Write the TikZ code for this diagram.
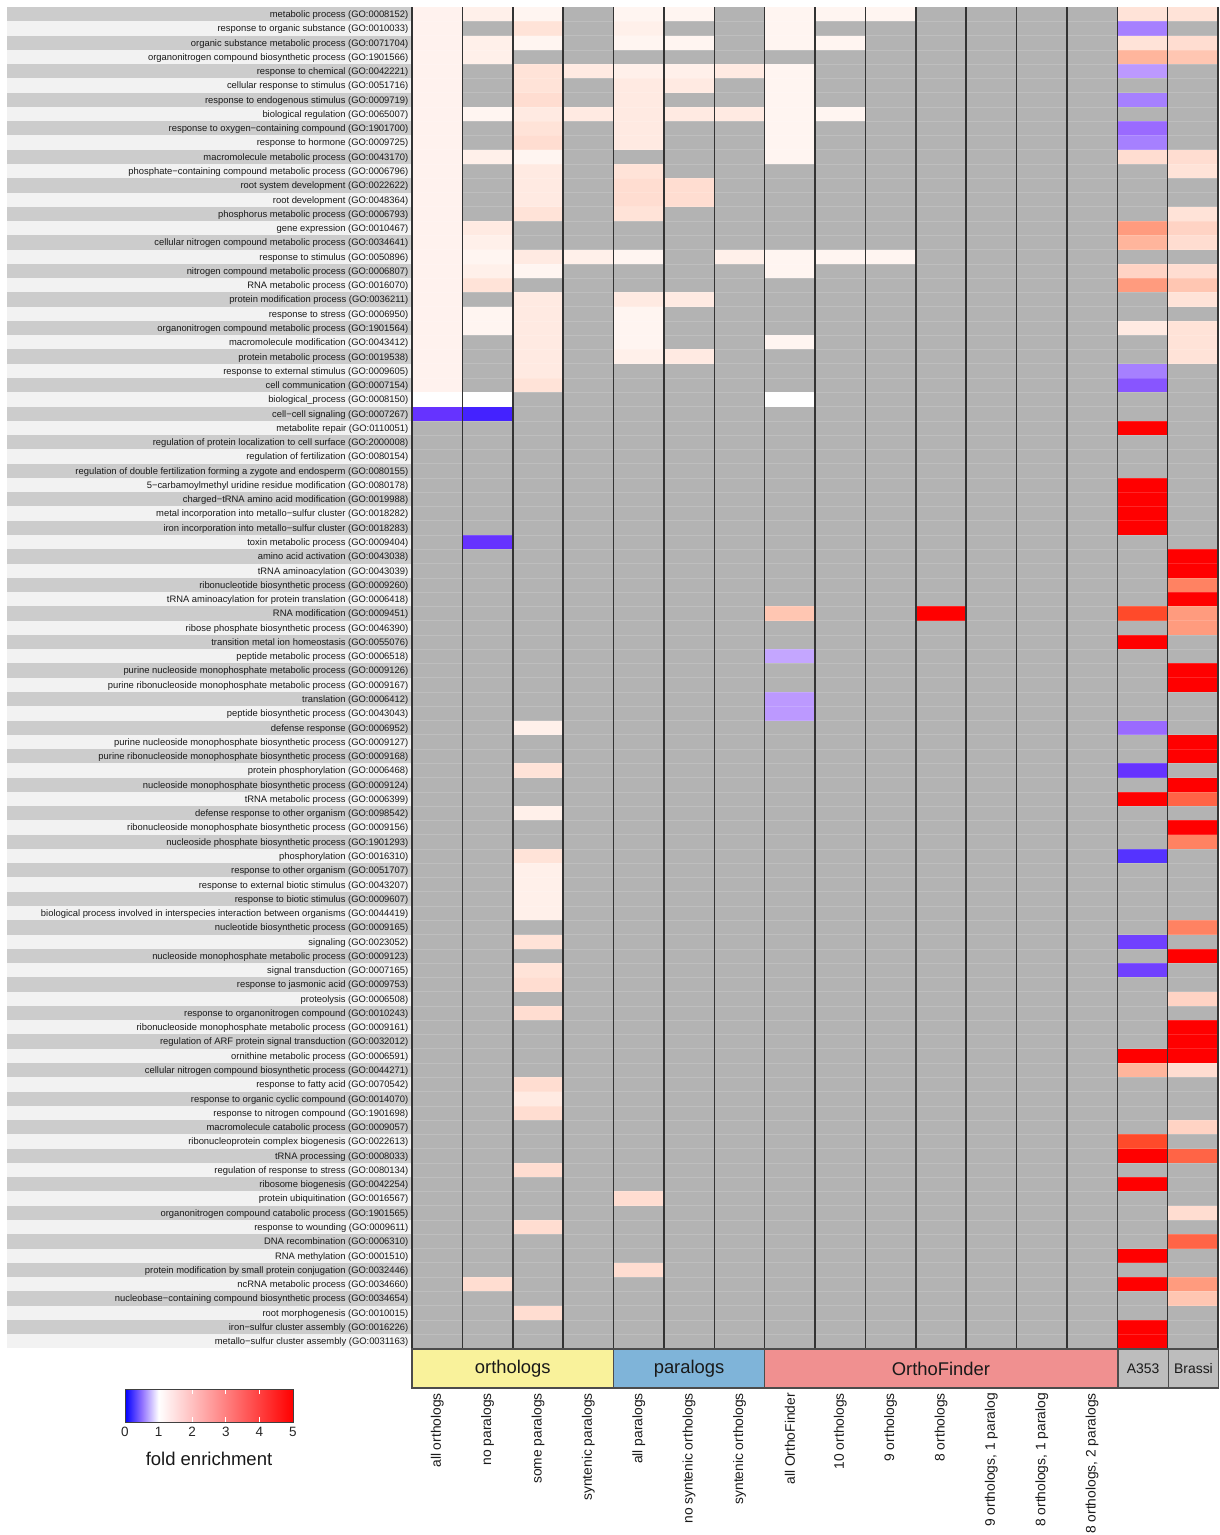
\documentclass[tikz,border=0pt]{standalone}
\usepackage{fontspec}
\setmainfont{Liberation Sans}
\definecolor{rA}{HTML}{FFF5F1}
\definecolor{rAB}{HTML}{FFF2EE}
\definecolor{rB}{HTML}{FFF0EA}
\definecolor{rC}{HTML}{FFEAE2}
\definecolor{rD}{HTML}{FFE3D8}
\definecolor{rE}{HTML}{FFDDD1}
\definecolor{rF}{HTML}{FFD3C4}
\definecolor{rG}{HTML}{FFC6B2}
\definecolor{rH}{HTML}{FFB59C}
\definecolor{rI}{HTML}{FF9B7E}
\definecolor{rJ}{HTML}{FF8262}
\definecolor{rK}{HTML}{FF6446}
\definecolor{rL}{HTML}{FF4A2A}
\definecolor{rM}{HTML}{FF0000}
\definecolor{wh}{HTML}{FFFFFF}
\definecolor{bA}{HTML}{C4A6FF}
\definecolor{bB}{HTML}{BC99FF}
\definecolor{bC}{HTML}{A680FF}
\definecolor{bD}{HTML}{9A6AFF}
\definecolor{bE}{HTML}{8855FF}
\definecolor{bF}{HTML}{7040FF}
\definecolor{bG}{HTML}{6633FF}
\definecolor{bH}{HTML}{4422FF}
\definecolor{bI}{HTML}{5533FF}
\definecolor{nagrey}{HTML}{B3B3B3}
\definecolor{stripeD}{HTML}{CCCCCC}
\definecolor{stripeL}{HTML}{F2F2F2}
\definecolor{gylw}{HTML}{F9F29B}
\definecolor{gblue}{HTML}{7FB4D9}
\definecolor{gpink}{HTML}{F09090}
\definecolor{ggrey}{HTML}{BDBDBD}
\definecolor{sepline}{HTML}{333333}
\definecolor{bmid}{HTML}{9070FF}
\pgfdeclarehorizontalshading{fechade}{100bp}{color(0bp)=(blue); color(25bp)=(blue); color(30bp)=(bmid); color(35bp)=(white); color(75bp)=(red); color(100bp)=(red)}
\newcommand\hmc[3]{\fill[#3] ({412+(#1-1)*50.375},{7+(#2-1)*14.27}) rectangle ++(50.375,14.27);}
\newcommand\hmcol[2]{\foreach \rr/\cc in {#2}{\hmc{#1}{\rr}{\cc}}}
\begin{document}
\begin{tikzpicture}[x=1pt,y=-1pt,
  rowlab/.style={anchor=base east,inner sep=0pt,font=\fontsize{9.4}{10}\selectfont,text=black!90},
  collab/.style={rotate=90,anchor=east,inner sep=0pt,font=\fontsize{13.8}{15}\selectfont,text=black!90},
  grpbox/.style={draw=black!70,line width=1.2pt,inner sep=0pt,minimum height=39pt,text=black!90},
  ticklab/.style={inner sep=0pt,font=\fontsize{13.5}{15}\selectfont,text=black!85}]
\useasboundingbox (0,0) rectangle (1219,1535);
\fill[white] (0,0) rectangle (1219,1535);
% label stripes
\foreach \i in {1,...,94}{
  \pgfmathparse{int(mod(\i,2))}
  \ifnum\pgfmathresult=1 \fill[stripeD] (7,{7+(\i-1)*14.27}) rectangle (412,{7+\i*14.27});
  \else \fill[stripeL] (7,{7+(\i-1)*14.27}) rectangle (412,{7+\i*14.27}); \fi
}
% heatmap background
\fill[nagrey] (412,7) rectangle (1218,{7+94*14.27});
% column 1
\foreach \rr in {1,...,27}{\hmc{1}{\rr}{rAB}}
\hmcol{1}{28/wh,29/bG}
\hmcol{2}{1/rB,3/rB,4/rB,8/rA,11/rB,16/rC,17/rB,18/rA,19/rB,20/rD,22/rA,23/rA,28/wh,29/bH,38/bG,90/rE}
\hmcol{3}{1/rA,2/rD,3/rA,5/rD,6/rD,7/rE,8/rC,9/rD,10/rE,11/rA,12/rC,13/rC,14/rC,15/rD,18/rC,19/rA,21/rC,22/rC,23/rC,24/rC,25/rC,26/rC,27/rD,51/rB,54/rD,57/rB,60/rD,61/rB,62/rB,63/rB,64/rB,66/rD,68/rD,69/rE,71/rE,76/rE,77/rC,78/rE,82/rE,86/rE,92/rE}
\hmcol{4}{5/rC,8/rC,18/rB}
\hmcol{5}{1/rA,2/rB,3/rA,5/rB,6/rC,7/rC,8/rC,9/rC,10/rC,12/rD,13/rE,14/rE,15/rD,18/rA,21/rC,22/rA,23/rA,24/rA,25/rB,84/rE,89/rE}
\hmcol{6}{1/rA,3/rA,5/rB,6/rC,8/rC,13/rE,14/rE,21/rC,25/rC}
\hmcol{7}{5/rC,8/rC,18/rB}
\hmcol{8}{1/rA,2/rA,3/rA,5/rA,6/rA,7/rA,8/rA,9/rA,10/rA,11/rA,18/rA,19/rA,24/rA,28/wh,43/rG,46/bA,49/bB,50/bB}
\hmcol{9}{1/rA,3/rA,8/rA,18/rA}
\hmcol{10}{1/rA,18/rA}
\hmcol{11}{43/rM}
\hmcol{15}{1/rD,2/bC,3/rD,4/rH,5/bB,7/bC,9/bD,10/bC,11/rE,16/rI,17/rH,19/rF,20/rI,23/rC,26/bC,27/bE,30/rM,34/rM,35/rM,36/rM,37/rM,43/rL,45/rM,51/bD,54/bG,56/rM,60/bI,66/bF,68/bF,74/rM,75/rH,80/rL,81/rM,83/rM,88/rM,90/rM,93/rM,94/rM}
\hmcol{16}{1/rD,3/rE,4/rG,11/rE,12/rD,15/rD,16/rF,17/rE,19/rE,20/rG,21/rD,23/rD,24/rD,25/rD,39/rM,40/rM,41/rJ,42/rM,43/rI,44/rI,47/rM,48/rM,52/rM,53/rM,55/rM,56/rK,58/rM,59/rJ,65/rJ,67/rM,70/rF,72/rM,73/rM,74/rM,75/rE,79/rF,81/rK,85/rE,87/rK,90/rI,91/rG}
% faint row separators
\foreach \i in {1,...,93}{
  \draw[white,opacity=0.15,line width=0.6pt] (412,{7+\i*14.27}) -- (1218,{7+\i*14.27});
}
% column separators
\foreach \k in {0,...,16}{
  \draw[sepline,line width=1.5pt] ({412+\k*50.375},7) -- ({412+\k*50.375},{7+94*14.27});
}
% row labels
\foreach \i/\t in {
1/{metabolic process (GO:0008152)},
2/{response to organic substance (GO:0010033)},
3/{organic substance metabolic process (GO:0071704)},
4/{organonitrogen compound biosynthetic process (GO:1901566)},
5/{response to chemical (GO:0042221)},
6/{cellular response to stimulus (GO:0051716)},
7/{response to endogenous stimulus (GO:0009719)},
8/{biological regulation (GO:0065007)},
9/{response to oxygen−containing compound (GO:1901700)},
10/{response to hormone (GO:0009725)},
11/{macromolecule metabolic process (GO:0043170)},
12/{phosphate−containing compound metabolic process (GO:0006796)},
13/{root system development (GO:0022622)},
14/{root development (GO:0048364)},
15/{phosphorus metabolic process (GO:0006793)},
16/{gene expression (GO:0010467)},
17/{cellular nitrogen compound metabolic process (GO:0034641)},
18/{response to stimulus (GO:0050896)},
19/{nitrogen compound metabolic process (GO:0006807)},
20/{RNA metabolic process (GO:0016070)},
21/{protein modification process (GO:0036211)},
22/{response to stress (GO:0006950)},
23/{organonitrogen compound metabolic process (GO:1901564)},
24/{macromolecule modification (GO:0043412)},
25/{protein metabolic process (GO:0019538)},
26/{response to external stimulus (GO:0009605)},
27/{cell communication (GO:0007154)},
28/{biological\_process (GO:0008150)},
29/{cell−cell signaling (GO:0007267)},
30/{metabolite repair (GO:0110051)},
31/{regulation of protein localization to cell surface (GO:2000008)},
32/{regulation of fertilization (GO:0080154)},
33/{regulation of double fertilization forming a zygote and endosperm (GO:0080155)},
34/{5−carbamoylmethyl uridine residue modification (GO:0080178)},
35/{charged−tRNA amino acid modification (GO:0019988)},
36/{metal incorporation into metallo−sulfur cluster (GO:0018282)},
37/{iron incorporation into metallo−sulfur cluster (GO:0018283)},
38/{toxin metabolic process (GO:0009404)},
39/{amino acid activation (GO:0043038)},
40/{tRNA aminoacylation (GO:0043039)},
41/{ribonucleotide biosynthetic process (GO:0009260)},
42/{tRNA aminoacylation for protein translation (GO:0006418)},
43/{RNA modification (GO:0009451)},
44/{ribose phosphate biosynthetic process (GO:0046390)},
45/{transition metal ion homeostasis (GO:0055076)},
46/{peptide metabolic process (GO:0006518)},
47/{purine nucleoside monophosphate metabolic process (GO:0009126)},
48/{purine ribonucleoside monophosphate metabolic process (GO:0009167)},
49/{translation (GO:0006412)},
50/{peptide biosynthetic process (GO:0043043)},
51/{defense response (GO:0006952)},
52/{purine nucleoside monophosphate biosynthetic process (GO:0009127)},
53/{purine ribonucleoside monophosphate biosynthetic process (GO:0009168)},
54/{protein phosphorylation (GO:0006468)},
55/{nucleoside monophosphate biosynthetic process (GO:0009124)},
56/{tRNA metabolic process (GO:0006399)},
57/{defense response to other organism (GO:0098542)},
58/{ribonucleoside monophosphate biosynthetic process (GO:0009156)},
59/{nucleoside phosphate biosynthetic process (GO:1901293)},
60/{phosphorylation (GO:0016310)},
61/{response to other organism (GO:0051707)},
62/{response to external biotic stimulus (GO:0043207)},
63/{response to biotic stimulus (GO:0009607)},
64/{biological process involved in interspecies interaction between organisms (GO:0044419)},
65/{nucleotide biosynthetic process (GO:0009165)},
66/{signaling (GO:0023052)},
67/{nucleoside monophosphate metabolic process (GO:0009123)},
68/{signal transduction (GO:0007165)},
69/{response to jasmonic acid (GO:0009753)},
70/{proteolysis (GO:0006508)},
71/{response to organonitrogen compound (GO:0010243)},
72/{ribonucleoside monophosphate metabolic process (GO:0009161)},
73/{regulation of ARF protein signal transduction (GO:0032012)},
74/{ornithine metabolic process (GO:0006591)},
75/{cellular nitrogen compound biosynthetic process (GO:0044271)},
76/{response to fatty acid (GO:0070542)},
77/{response to organic cyclic compound (GO:0014070)},
78/{response to nitrogen compound (GO:1901698)},
79/{macromolecule catabolic process (GO:0009057)},
80/{ribonucleoprotein complex biogenesis (GO:0022613)},
81/{tRNA processing (GO:0008033)},
82/{regulation of response to stress (GO:0080134)},
83/{ribosome biogenesis (GO:0042254)},
84/{protein ubiquitination (GO:0016567)},
85/{organonitrogen compound catabolic process (GO:1901565)},
86/{response to wounding (GO:0009611)},
87/{DNA recombination (GO:0006310)},
88/{RNA methylation (GO:0001510)},
89/{protein modification by small protein conjugation (GO:0032446)},
90/{ncRNA metabolic process (GO:0034660)},
91/{nucleobase−containing compound biosynthetic process (GO:0034654)},
92/{root morphogenesis (GO:0010015)},
93/{iron−sulfur cluster assembly (GO:0016226)},
94/{metallo−sulfur cluster assembly (GO:0031163)}}{
  \node[rowlab] (lab\i) at (408.5,{7+(\i-0.5)*14.27+3.4}) {\t};
}
% group boxes
\node[grpbox,fill=gylw,minimum width=201.5pt,font=\fontsize{18.4}{20}\selectfont] (gorth) at (512.75,1368.5) {orthologs};
\node[grpbox,fill=gblue,minimum width=151.1pt,font=\fontsize{18.4}{20}\selectfont] (gpara) at (689.06,1368.5) {paralogs};
\node[grpbox,fill=gpink,minimum width=352.6pt,font=\fontsize{18.4}{20}\selectfont] (gof) at (940.94,1368.5) {OrthoFinder};
\node[grpbox,fill=ggrey,minimum width=50.4pt,font=\fontsize{13.9}{15}\selectfont] (ga353) at (1143.1,1368.5) {A353};
\node[grpbox,fill=ggrey,minimum width=50.4pt,font=\fontsize{13.9}{15}\selectfont] (gbr) at (1193.5,1368.5) {Brassi};
% column labels
\foreach \i/\t in {1/{all orthologs},2/{no paralogs},3/{some paralogs},4/{syntenic paralogs},5/{all paralogs},6/{no syntenic orthologs},7/{syntenic orthologs},8/{all OrthoFinder},9/{10 orthologs},10/{9 orthologs},11/{8 orthologs},12/{9 orthologs, 1 paralog},13/{8 orthologs, 1 paralog},14/{8 orthologs, 2 paralogs}}{
  \node[collab] (cl\i) at ({412+(\i-0.5)*50.375},1393) {\t};
}
% colour bar
\shade[shading=fechade] (125,1389) rectangle (293,1422);
\foreach \v in {2,3,4}{
  \draw[white,line width=0.8pt] ({125+\v*33.6},1389) -- ++(0,5);
  \draw[white,line width=0.8pt] ({125+\v*33.6},1422) -- ++(0,-5);
}
\draw[black!75,line width=1pt] (125,1389) rectangle (293,1422);
\foreach \v in {0,...,5}{
  \node[ticklab] (tk\v) at ({125+\v*33.6},1432) {\v};
}
\node[inner sep=0pt,font=\fontsize{18.5}{20}\selectfont,text=black!90] (fetitle) at (209,1459) {fold enrichment};
\end{tikzpicture}
\end{document}
